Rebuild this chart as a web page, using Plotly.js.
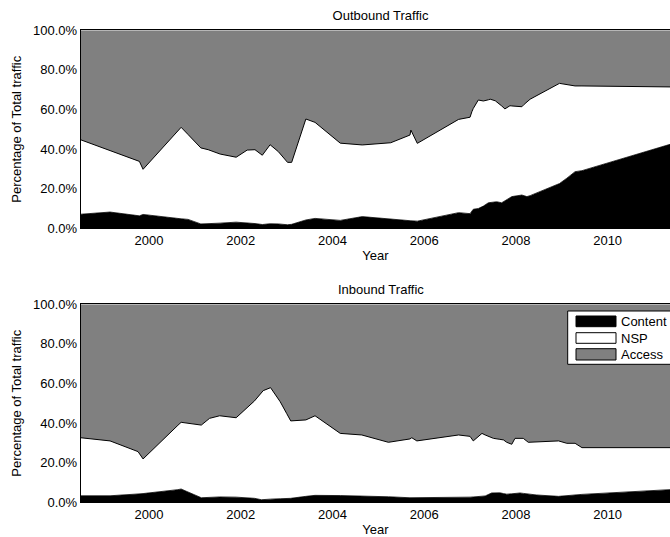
<!DOCTYPE html>
<html>
<head>
<meta charset="utf-8">
<script src="https://cdn.plot.ly/plotly-3.0.1.min.js"></script>
<style>
  html, body { margin: 0; padding: 0; background: #fff; }
  #chart { width: 670px; height: 537px; }
</style>
</head>
<body>
<div id="chart"></div>
<script>
// ---------------- data (percent of total traffic) ----------------
var seriesNames = ['Content', 'NSP', 'Access'];
var panelTitles = ['Outbound Traffic', 'Inbound Traffic'];
var yearTicks = [2000, 2002, 2004, 2006, 2008, 2010];
var pctTicks = [0, 20, 40, 60, 80, 100];

var outYears = [1998.51,1999.15,1999.79,1999.87,2000.70,2000.85,2001.13,2001.29,2001.55,2001.90,
  2002.14,2002.31,2002.47,2002.64,2002.82,2003.02,2003.11,2003.42,2003.62,2004.17,
  2004.65,2005.27,2005.69,2005.71,2005.85,2006.75,2007.00,2007.04,2007.07,2007.18,
  2007.29,2007.40,2007.44,2007.55,2007.58,2007.69,2007.76,2007.80,2007.87,2007.91,
  2008.13,2008.18,2008.24,2008.31,2008.95,2009.11,2009.29,2009.44,2011.36];
var outContent = [7.1,8.2,6.3,7.0,4.8,4.5,2.2,2.3,2.6,3.1,
  2.8,2.4,1.9,2.3,2.2,1.8,2.0,4.2,5.0,4.0,
  5.9,4.5,3.8,3.8,3.6,7.9,7.4,8.6,9.6,10.0,
  11.2,12.9,13.0,13.3,13.4,12.9,13.8,14.3,15.5,16.0,
  16.8,16.4,16.0,16.5,22.6,25.3,28.6,29.1,42.4];
var outNSP = [37.6,31.1,27.5,22.8,46.2,42.9,38.4,37.4,34.9,32.8,
  36.7,37.3,35.0,39.9,36.5,31.5,31.3,51.0,48.5,39.0,
  36.2,38.7,43.3,45.8,39.3,47.1,48.7,50.3,50.9,54.8,
  53.1,52.0,52.2,51.1,50.5,48.9,46.5,46.7,46.4,45.8,
  44.6,46.2,47.6,48.7,50.6,47.3,43.3,42.8,29.0];
var outAccess = [55.3,60.7,66.2,70.2,49.0,52.6,59.4,60.3,62.5,64.1,
  60.5,60.3,63.1,57.8,61.3,66.7,66.7,44.8,46.5,57.0,
  57.9,56.8,52.9,50.4,57.1,45.0,43.9,41.1,39.5,35.2,
  35.7,35.1,34.8,35.6,36.1,38.2,39.7,39.0,38.1,38.2,
  38.6,37.4,36.4,34.8,26.8,27.4,28.1,28.1,28.6];

var inYears = [1998.51,1999.15,1999.76,1999.87,2000.63,2000.70,2001.14,2001.32,2001.54,2001.90,
  2002.30,2002.45,2002.49,2002.65,2002.86,2003.00,2003.09,2003.42,2003.62,2004.17,
  2004.64,2005.22,2005.69,2005.73,2005.84,2006.75,2007.00,2007.07,2007.26,2007.33,
  2007.47,2007.51,2007.65,2007.73,2007.80,2007.91,2007.98,2008.09,2008.16,2008.27,
  2008.45,2008.93,2009.11,2009.29,2009.44,2011.36];
var inContent = [3.3,3.3,4.2,4.4,6.4,6.7,2.3,2.5,2.7,2.6,
  2.0,1.3,1.4,1.6,1.8,2.0,2.0,3.0,3.5,3.4,
  3.3,2.8,2.3,2.3,2.3,2.5,2.6,2.7,2.8,3.2,
  4.7,4.7,4.8,4.4,4.1,4.3,4.5,4.7,4.5,4.1,
  3.7,3.0,3.4,3.8,4.0,6.4];
var inNSP = [29.3,27.7,21.4,17.5,32.5,33.7,36.7,39.9,41.0,40.1,
  49.2,54.1,55.0,56.3,49.0,42.9,39.1,38.6,40.2,31.4,
  30.7,27.5,29.7,30.3,28.7,31.5,30.7,28.3,32.0,30.8,
  28.1,27.6,27.0,27.1,26.2,25.0,27.8,27.6,27.8,26.2,
  26.8,28.0,26.4,26.0,23.6,21.2];
var inAccess = [67.4,69.0,74.4,78.1,61.1,59.6,61.0,57.6,56.3,57.3,
  48.8,44.6,43.6,42.1,49.2,55.1,58.9,58.4,56.3,65.2,
  66.0,69.7,68.0,67.4,69.0,66.0,66.7,69.0,65.2,66.0,
  67.2,67.7,68.2,68.5,69.7,70.7,67.7,67.7,67.7,69.7,
  69.5,69.0,70.2,70.2,72.4,72.4];

// ---------------- styling ----------------
var W = 670, H = 537;
function px(x) { return x / W; }
function py(y) { return 1 - y / H; }
var FONT = { family: '"Liberation Sans", Arial, Helvetica, sans-serif', size: 13, color: '#000' };
var fills = ['#000000', '#ffffff', '#808080'];
var lineW = [0.8, 1, 0];

function makeTraces(years, vals, xa, ya, grp) {
  return vals.map(function (v, i) {
    return {
      type: 'scatter', mode: 'lines', x: years, y: v, name: seriesNames[i],
      xaxis: xa, yaxis: ya, stackgroup: grp,
      fillcolor: fills[i],
      line: { color: '#000', width: lineW[i] },
      showlegend: false, hoverinfo: 'x+y+name'
    };
  });
}

var traces = []
  .concat(makeTraces(outYears, [outContent, outNSP, outAccess], 'x', 'y', 'out'))
  .concat(makeTraces(inYears, [inContent, inNSP, inAccess], 'x2', 'y2', 'in'));

var xDom = [px(80.7), 1];
var xRange = [1998.51, 2011.36];

function xAxis(anchor) {
  return {
    domain: xDom, range: xRange, anchor: anchor,
    tickmode: 'array', tickvals: yearTicks, ticktext: yearTicks.map(String),
    ticks: '', showgrid: false, zeroline: false,
    showline: true, linecolor: '#000', linewidth: 1, mirror: true,
    tickfont: FONT, automargin: false,
    title: { text: 'Year', font: FONT, standoff: 3 }
  };
}
function yAxis(anchor, dom) {
  return {
    domain: dom, range: [0, 100], anchor: anchor,
    tickmode: 'array', tickvals: pctTicks, ticktext: pctTicks.map(function (t) { return t.toFixed(1) + '%'; }),
    ticks: '', showgrid: false, zeroline: false,
    showline: true, linecolor: '#000', linewidth: 1,
    tickfont: FONT, automargin: false,
    title: { text: 'Percentage of Total traffic', font: FONT, standoff: 8 }
  };
}

// custom legend (inbound panel, top right)
var legTop = 311, legBot = 364.3;
var swX0 = 576, swX1 = 616;
var swY = [[316, 326.7], [332.7, 343.3], [348.7, 360]];
var shapes = [{
  type: 'rect', xref: 'paper', yref: 'paper', layer: 'above',
  x0: px(567.7), x1: px(675), y0: py(legBot), y1: py(legTop),
  fillcolor: '#fff', line: { color: '#000', width: 1 }
}];
var annotations = [{
  text: panelTitles[1], xref: 'paper', yref: 'paper', x: px(380.5), y: py(289),
  xanchor: 'center', yanchor: 'middle', showarrow: false, font: FONT
}];
seriesNames.forEach(function (n, i) {
  shapes.push({
    type: 'rect', xref: 'paper', yref: 'paper', layer: 'above',
    x0: px(swX0), x1: px(swX1), y0: py(swY[i][1]), y1: py(swY[i][0]),
    fillcolor: fills[i], line: { color: '#000', width: 1 }
  });
  annotations.push({
    text: n, xref: 'paper', yref: 'paper', x: px(619.5), y: py((swY[i][0] + swY[i][1]) / 2),
    xanchor: 'left', yanchor: 'middle', showarrow: false, font: FONT, borderpad: 0
  });
});

var layout = {
  width: W, height: H,
  margin: { l: 0, r: 0, t: 0, b: 0 },
  paper_bgcolor: '#fff', plot_bgcolor: '#fff',
  font: FONT, showlegend: false,
  title: { text: panelTitles[0], font: FONT, x: px(380.5), xref: 'paper', xanchor: 'center',
           y: py(15.5), yref: 'paper', yanchor: 'middle' },
  xaxis: xAxis('y'),
  yaxis: yAxis('x', [py(228.3), py(30.3)]),
  xaxis2: xAxis('y2'),
  yaxis2: yAxis('x2', [py(502.3), py(304.3)]),
  shapes: shapes,
  annotations: annotations
};

Plotly.newPlot('chart', traces, layout, { displayModeBar: false, staticPlot: true });
</script>
</body>
</html>
